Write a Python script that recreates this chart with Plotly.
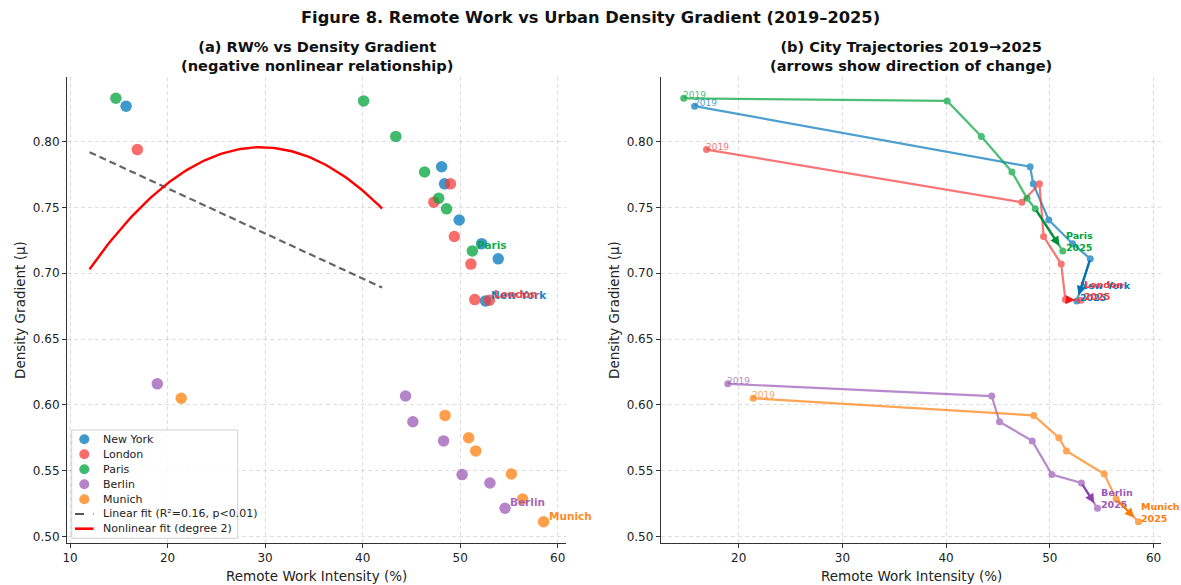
import numpy as np
import plotly.graph_objects as go

# ---- data -------------------------------------------------------------
years = [2019, 2020, 2021, 2022, 2023, 2024, 2025]
cities = ["New York", "London", "Paris", "Berlin", "Munich"]

ny_rw = [15.75, 48.1, 48.4, 49.9, 52.2, 53.9, 52.6]
ny_dg = [0.827, 0.781, 0.768, 0.7405, 0.7225, 0.711, 0.679]
london_rw = [16.9, 47.3, 49.0, 49.4, 51.1, 51.5, 53.0]
london_dg = [0.794, 0.754, 0.768, 0.728, 0.707, 0.680, 0.6795]
paris_rw = [14.7, 40.1, 43.4, 46.35, 47.8, 48.6, 51.25]
paris_dg = [0.833, 0.831, 0.804, 0.777, 0.757, 0.749, 0.717]
berlin_rw = [18.95, 44.4, 45.15, 48.3, 50.2, 53.05, 54.6]
berlin_dg = [0.616, 0.6067, 0.5872, 0.5726, 0.547, 0.5406, 0.5214]
munich_rw = [21.4, 48.45, 50.87, 51.6, 55.25, 56.4, 58.55]
munich_dg = [0.605, 0.592, 0.575, 0.565, 0.5475, 0.5285, 0.5112]

# fitted models (coefficients, highest power first) and the x-span they were drawn over
linear_coef = [-0.00343, 0.8332]
quad_coef = [-0.000301, 0.01779, 0.5329]
fit_span = [12.0, 42.0]

x_ticks = [10, 20, 30, 40, 50, 60]
y_ticks = [0.50, 0.55, 0.60, 0.65, 0.70, 0.75, 0.80]

rw = [ny_rw, london_rw, paris_rw, berlin_rw, munich_rw]
dg = [ny_dg, london_dg, paris_dg, berlin_dg, munich_dg]

colors = ["#0077BB", "#F53B3B", "#00A33C", "#9B59B6", "#FF7F0E"]
arrow_colors = ["#0070B8", "#F01818", "#009036", "#8E44AD", "#FF7A00"]

W, H = 1181, 585
FONT = "DejaVu Sans"

fig = go.Figure()

# ---- panel (a): scatter of all city-years ----------------------------
for name, xs, ys, c in zip(cities, rw, dg, colors):
    fig.add_trace(go.Scatter(
        x=xs, y=ys, mode="markers", name=name, showlegend=False,
        marker=dict(size=11.5, color=c, opacity=0.75, line=dict(width=0)),
        xaxis="x", yaxis="y"))

fx = np.linspace(fit_span[0], fit_span[1], 100)
fig.add_trace(go.Scatter(
    x=fx, y=np.polyval(linear_coef, fx), mode="lines", showlegend=False,
    line=dict(color="#555555", width=2.2, dash="7px,4px"), opacity=0.9,
    xaxis="x", yaxis="y"))
fig.add_trace(go.Scatter(
    x=fx, y=np.polyval(quad_coef, fx), mode="lines", showlegend=False,
    line=dict(color="#FF0000", width=2.4), xaxis="x", yaxis="y"))

annotations = []
shapes = []

# end-of-series city labels in panel (a)
for name, xs, ys, c in zip(cities, rw, dg, colors):
    annotations.append(dict(
        x=xs[-1], y=ys[-1], xref="x", yref="y", text=f"<b>{name}</b>",
        showarrow=False, xanchor="left", yanchor="bottom", xshift=3, yshift=-2,
        font=dict(family=FONT, size=10.5, color=c), opacity=0.9))

# ---- panel (b): trajectories -----------------------------------------
for name, xs, ys, c, ac in zip(cities, rw, dg, colors, arrow_colors):
    fig.add_trace(go.Scatter(
        x=xs, y=ys, mode="lines+markers", showlegend=False, opacity=0.7,
        line=dict(color=c, width=2.2), marker=dict(size=7, color=c),
        xaxis="x2", yaxis="y2"))
    # direction arrow on the final step
    annotations.append(dict(
        x=xs[-1], y=ys[-1], ax=xs[-2], ay=ys[-2],
        xref="x2", yref="y2", axref="x2", ayref="y2",
        showarrow=True, arrowhead=2, arrowsize=0.85, arrowwidth=2.2,
        arrowcolor=ac, standoff=6, text=""))
    annotations.append(dict(
        x=xs[0], y=ys[0], xref="x2", yref="y2", text=str(years[0]),
        showarrow=False, xanchor="left", yanchor="bottom", xshift=-3, yshift=-4,
        font=dict(family=FONT, size=9, color=c), opacity=0.7))
    annotations.append(dict(
        x=xs[-1], y=ys[-1], xref="x2", yref="y2",
        text=f"<b>{name}<br>{years[-1]}</b>",
        showarrow=False, xanchor="left", yanchor="bottom", xshift=1, yshift=-4,
        align="left", font=dict(family=FONT, size=9.5, color=c)))

# ---- titles ------------------------------------------------------------
def px_x(p):
    return p / W


def px_y(p):
    return 1 - p / H


annotations.append(dict(
    x=0.5, y=px_y(17), xref="paper", yref="paper", showarrow=False,
    text="<b>Figure 8. Remote Work vs Urban Density Gradient (2019–2025)</b>",
    font=dict(family=FONT, size=16.3, color="#111111"),
    xanchor="center", yanchor="middle"))
for cx, t1, t2 in [(316.5, "(a) RW% vs Density Gradient", "(negative nonlinear relationship)"),
                   (911, "(b) City Trajectories 2019→2025", "(arrows show direction of change)")]:
    annotations.append(dict(
        x=px_x(cx), y=px_y(56), xref="paper", yref="paper", showarrow=False,
        text=f"<b>{t1}<br>{t2}</b>", xanchor="center", yanchor="middle",
        font=dict(family=FONT, size=14.6, color="#111111")))
    annotations.append(dict(
        x=px_x(cx), y=px_y(576), xref="paper", yref="paper", showarrow=False,
        text="Remote Work Intensity (%)", xanchor="center", yanchor="middle",
        font=dict(family=FONT, size=13.5, color="#222222")))
for cx in [20, 614]:
    annotations.append(dict(
        x=px_x(cx), y=px_y(310), xref="paper", yref="paper", showarrow=False,
        text="Density Gradient (μ)", textangle=-90, xanchor="center", yanchor="middle",
        font=dict(family=FONT, size=13.5, color="#222222")))

# ---- legend drawn inside panel (a) -------------------------------------
lx0, lx1, ly0, ly1 = 71.7, 237.7, 430, 538.3
shapes.append(dict(type="rect", xref="paper", yref="paper",
                   x0=px_x(lx0), x1=px_x(lx1), y0=px_y(ly1), y1=px_y(ly0),
                   line=dict(color="#D0D0D0", width=1), fillcolor="rgba(255,255,255,0.85)",
                   layer="above"))
legend_rows = [439.3, 454.3, 469.3, 484.3, 499.3, 513.9, 528.7]
for name, c, yy in zip(cities, colors, legend_rows):
    shapes.append(dict(type="circle", xref="paper", yref="paper",
                       x0=px_x(84.3 - 5), x1=px_x(84.3 + 5),
                       y0=px_y(yy + 5), y1=px_y(yy - 5),
                       fillcolor=c, opacity=0.75, line=dict(width=0), layer="above"))
fit_styles = [("Linear fit (R²=0.16, p<0.01)", "#555555", "dash", 2),
              ("Nonlinear fit (degree 2)", "#FF0000", "solid", 2.6)]
for (label, c, dsh, w), yy in zip(fit_styles, legend_rows[5:]):
    shapes.append(dict(type="line", xref="paper", yref="paper",
                       x0=px_x(75), x1=px_x(93.5), y0=px_y(yy), y1=px_y(yy),
                       line=dict(color=c, width=w, dash=dsh), layer="above"))
for label, yy in zip(cities + [f[0] for f in fit_styles], legend_rows):
    annotations.append(dict(
        x=px_x(101), y=px_y(yy), xref="paper", yref="paper", showarrow=False,
        text=label, xanchor="left", yanchor="middle",
        font=dict(family=FONT, size=11, color="#222222")))

# ---- axes ----------------------------------------------------------------
axis_common = dict(
    showgrid=True, gridcolor="rgba(0,0,0,0.13)", griddash="4px,3px", gridwidth=0.8,
    zeroline=False, showline=True, linecolor="#333333", linewidth=1.3,
    ticks="outside", ticklen=4, tickwidth=1.1, tickcolor="#333333",
    tickfont=dict(family=FONT, size=12, color="#222222"), automargin=False)

yd = [1 - 542.9 / H, 1 - 77.1 / H]
fig.update_layout(
    width=W, height=H, margin=dict(l=0, r=0, t=0, b=0),
    paper_bgcolor="white", plot_bgcolor="white", showlegend=False,
    xaxis=dict(domain=[67.1 / W, 566.0 / W], range=[9.7, 60.85], tickvals=x_ticks,
               anchor="y", **axis_common),
    yaxis=dict(domain=yd, range=[0.4951, 0.8491], tickvals=y_ticks, tickformat=".2f",
               anchor="x", **axis_common),
    xaxis2=dict(domain=[660.9 / W, 1161.4 / W], range=[12.5, 60.76], tickvals=x_ticks,
                anchor="y2", **axis_common),
    yaxis2=dict(domain=yd, range=[0.4951, 0.8491], tickvals=y_ticks, tickformat=".2f",
                anchor="x2", **axis_common),
    annotations=annotations, shapes=shapes,
)

fig.write_html("out.html")
